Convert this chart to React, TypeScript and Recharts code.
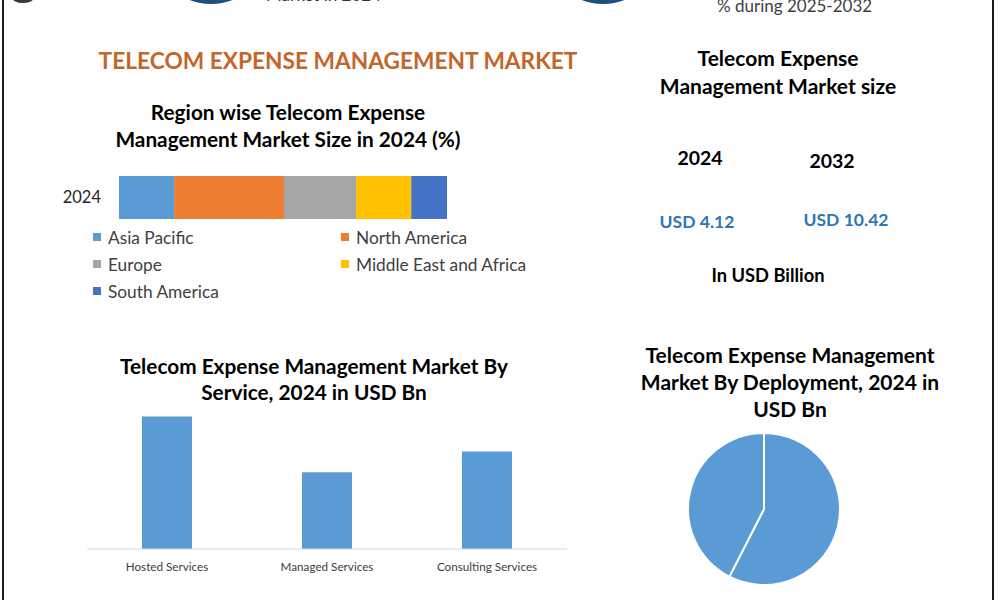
import React from 'react';
import { BarChart, Bar, XAxis, YAxis, PieChart, Pie, Cell } from 'recharts';

// Regional share of the market in 2024 (%)
const regionNames = ['Asia Pacific', 'North America', 'Europe', 'Middle East and Africa', 'South America'];
const regionShares = [16.8, 33.5, 22.0, 16.8, 10.9];
const regionColors = ['#5B9BD5', '#ED7D31', '#A5A5A5', '#FFC000', '#4472C4'];
const regionYear = '2024';

// Market by service, 2024 (USD Bn)
const serviceNames = ['Hosted Services', 'Managed Services', 'Consulting Services'];
const serviceValues = [1.78, 1.03, 1.31];

// Market by deployment, 2024 (USD Bn)
const deploymentNames = ['Cloud', 'On-Premise'];
const deploymentValues = [2.37, 1.75];

// Overall market size (USD Bn)
const sizeYears = ['2024', '2032'];
const sizeValues = [4.12, 10.42];

const FONT = 'Lato, "Open Sans", sans-serif';
const BLUE = '#5B9BD5';

const regionRow = regionNames.reduce<Record<string, string | number>>(
  (row, name, i) => {
    row[name] = regionShares[i];
    return row;
  },
  { year: regionYear }
);

const serviceData = serviceNames.map((name, i) => ({ name, value: serviceValues[i] }));
const deploymentData = deploymentNames.map((name, i) => ({ name, value: deploymentValues[i] }));

function Text({
  left,
  top,
  width,
  size,
  lineHeight,
  color = '#000',
  weight = 700,
  children,
}: {
  left: number;
  top: number;
  width: number;
  size: number;
  lineHeight: number;
  color?: string;
  weight?: number;
  children: React.ReactNode;
}) {
  return (
    <div
      style={{
        position: 'absolute',
        left,
        top,
        width,
        textAlign: 'center',
        fontSize: size,
        lineHeight: `${lineHeight}px`,
        fontWeight: weight,
        color,
        whiteSpace: 'nowrap',
      }}
    >
      {children}
    </div>
  );
}

function RegionLegend() {
  return (
    <>
      {regionNames.map((name, i) => {
        const col = i % 2;
        const row = Math.floor(i / 2);
        const x = col === 0 ? 93 : 341;
        const y = 237 + row * 27;
        return (
          <div
            key={name}
            style={{
              position: 'absolute',
              left: x,
              top: y - 11,
              height: 22,
              display: 'flex',
              alignItems: 'center',
              fontSize: 17.3,
              color: '#404040',
              whiteSpace: 'nowrap',
            }}
          >
            <span style={{ width: 8, height: 8, background: regionColors[i], marginRight: 7, display: 'inline-block' }} />
            {name}
          </div>
        );
      })}
    </>
  );
}

export default function App() {
  return (
    <div
      style={{
        position: 'absolute',
        left: 0,
        top: 0,
        width: 1000,
        height: 600,
        overflow: 'hidden',
        background: '#fff',
        fontFamily: FONT,
      }}
    >
      {/* frame */}
      <div style={{ position: 'absolute', left: 2, top: 0, width: 2, height: 600, background: '#1a1a1a' }} />
      <div style={{ position: 'absolute', left: 992, top: 0, width: 2, height: 600, background: '#1a1a1a' }} />

      {/* header strip, mostly above the fold */}
      <div style={{ position: 'absolute', left: 12, top: -8, width: 22, height: 11, borderRadius: '50%', background: '#3a3a3a' }} />
      <div style={{ position: 'absolute', left: 151, top: -116, width: 120, height: 120, borderRadius: '50%', background: '#1F4E79' }} />
      <div style={{ position: 'absolute', left: 543, top: -116, width: 120, height: 120, borderRadius: '50%', background: '#1F4E79' }} />
      <div style={{ position: 'absolute', left: 266, top: -16, fontSize: 17, color: '#333', whiteSpace: 'nowrap' }}>
        Market in 2024
      </div>
      <div style={{ position: 'absolute', left: 717, top: -5, fontSize: 17, lineHeight: '22px', color: '#404040', whiteSpace: 'nowrap' }}>
        % during 2025-2032
      </div>

      <Text left={88} top={47} width={500} size={22.7} lineHeight={28} color="#C4652A">
        TELECOM EXPENSE MANAGEMENT MARKET
      </Text>

      {/* regional split */}
      <Text left={88} top={98} width={400} size={20.8} lineHeight={27}>
        Region wise Telecom Expense
        <br />
        Management Market Size in 2024 (%)
      </Text>
      <div style={{ position: 'absolute', left: 0, top: 160 }}>
        <BarChart
          width={600}
          height={80}
          layout="vertical"
          data={[regionRow]}
          margin={{ top: 16, right: 153, bottom: 21, left: 0 }}
          barCategoryGap={0}
        >
          <XAxis type="number" domain={[0, 100]} hide />
          <YAxis
            type="category"
            dataKey="year"
            width={119}
            axisLine={false}
            tickLine={false}
            tickSize={0}
            tickMargin={18}
            tick={{ fontSize: 16.5, fill: '#262626', fontFamily: FONT }}
          />
          {regionNames.map((name, i) => (
            <Bar key={name} dataKey={name} stackId="r" fill={regionColors[i]} isAnimationActive={false} />
          ))}
        </BarChart>
      </div>
      <RegionLegend />

      {/* by service */}
      <Text left={94} top={353} width={440} size={20.8} lineHeight={26}>
        Telecom Expense Management Market By
        <br />
        Service, 2024 in USD Bn
      </Text>
      <div style={{ position: 'absolute', left: 0, top: 380 }}>
        <BarChart width={600} height={220} data={serviceData} margin={{ top: 20, right: 33, bottom: 21, left: 87 }}>
          <XAxis
            dataKey="name"
            axisLine={{ stroke: '#D9D9D9' }}
            tickLine={false}
            tickSize={0}
            tickMargin={14}
            tick={{ fontSize: 11.7, fill: '#404040', fontFamily: FONT }}
          />
          <YAxis domain={[0, 2]} hide />
          <Bar dataKey="value" fill={BLUE} barSize={50} isAnimationActive={false} />
        </BarChart>
      </div>

      {/* market size */}
      <Text left={628} top={44} width={300} size={21} lineHeight={28}>
        Telecom Expense
        <br />
        Management Market size
      </Text>
      <Text left={640} top={144} width={120} size={19.5} lineHeight={28}>
        {sizeYears[0]}
      </Text>
      <Text left={772} top={147} width={120} size={19.5} lineHeight={28}>
        {sizeYears[1]}
      </Text>
      <Text left={622} top={209} width={150} size={17.5} lineHeight={26} color="#2E75B6">
        USD {sizeValues[0].toFixed(2)}
      </Text>
      <Text left={771} top={207} width={150} size={17.5} lineHeight={26} color="#2E75B6">
        USD {sizeValues[1].toFixed(2)}
      </Text>
      <Text left={668} top={262} width={200} size={18.3} lineHeight={26}>
        In USD Billion
      </Text>

      {/* by deployment */}
      <Text left={630} top={341} width={320} size={21} lineHeight={27}>
        Telecom Expense Management
        <br />
        Market By Deployment, 2024 in
        <br />
        USD Bn
      </Text>
      <div style={{ position: 'absolute', left: 620, top: 420 }}>
        <PieChart width={290} height={180}>
          <Pie
            data={deploymentData}
            dataKey="value"
            nameKey="name"
            cx={139}
            cy={84}
            outerRadius={76}
            startAngle={90}
            endAngle={-270}
            stroke="#fff"
            strokeWidth={2}
            isAnimationActive={false}
          >
            {deploymentData.map((d) => (
              <Cell key={d.name} fill={BLUE} />
            ))}
          </Pie>
        </PieChart>
      </div>
    </div>
  );
}
